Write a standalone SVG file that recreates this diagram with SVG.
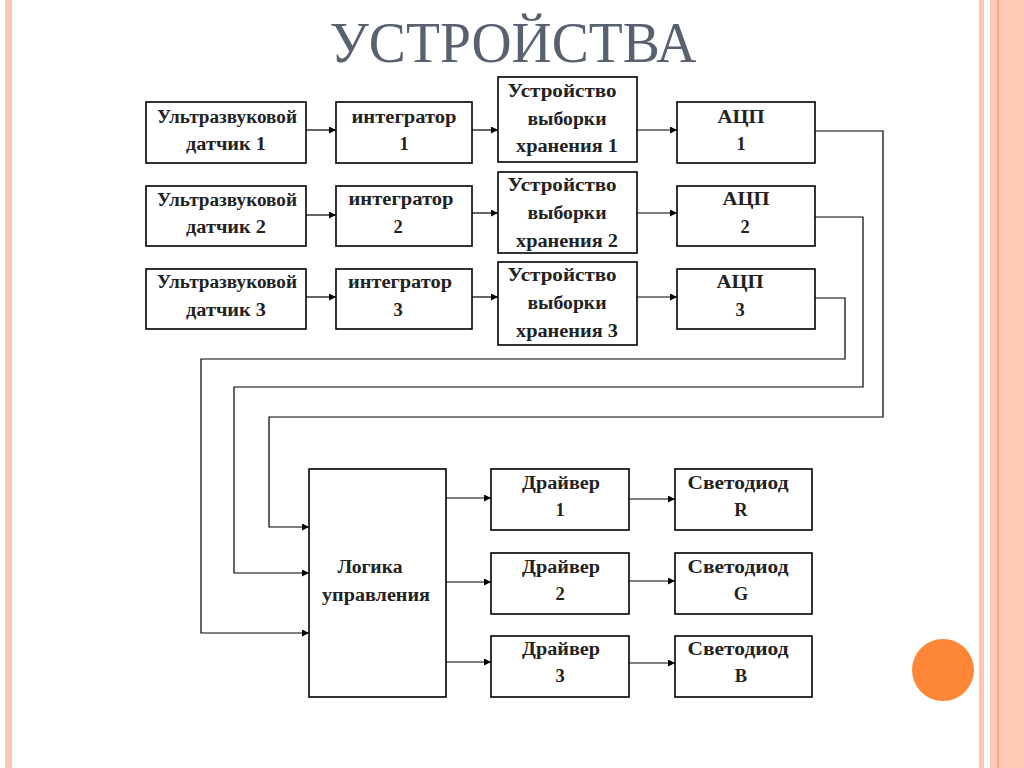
<svg xmlns="http://www.w3.org/2000/svg" width="1024" height="768" viewBox="0 0 1024 768">
<defs>
<style>
.box{fill:#fff;stroke:#000;stroke-width:1.6}
.t{font-family:"Liberation Serif","Times New Roman",serif;font-weight:bold;font-size:18.5px;fill:#222;text-anchor:middle}
.w{fill:none;stroke:#000;stroke-width:1.2}
.title{font-family:"Liberation Serif","Times New Roman",serif;font-size:58px;fill:#596170;text-anchor:middle}
</style>
<marker id="ah" viewBox="0 0 10 10" refX="10" refY="5" markerWidth="9" markerHeight="7" markerUnits="userSpaceOnUse" orient="auto">
<path d="M0,0 L10,5 L0,10 z" fill="#000"/>
</marker>
</defs>
<rect width="1024" height="768" fill="#fff"/>
<rect x="5" y="0" width="7" height="768" fill="#fcc5b3"/>
<rect x="979" y="0" width="5" height="768" fill="#fcc5b3"/>
<rect x="990" y="0" width="34" height="768" fill="#fdcab6"/>
<rect x="997.5" y="0" width="1.2" height="768" fill="#f5915e"/>
<circle cx="943" cy="670" r="31" fill="#fd8637"/>
<text class="title" x="513" y="62" textLength="367" lengthAdjust="spacingAndGlyphs">УСТРОЙСТВА</text>

<g id="us1"><rect class="box" x="146" y="102" width="160" height="61"/><text class="t" x="227" y="123" textLength="140" lengthAdjust="spacingAndGlyphs">Ультразвуковой</text><text class="t" x="226" y="150" textLength="80" lengthAdjust="spacingAndGlyphs">датчик 1</text></g>
<g id="int1"><rect class="box" x="336" y="102" width="136" height="61"/><text class="t" x="404" y="123" textLength="105" lengthAdjust="spacingAndGlyphs">интегратор</text><text class="t" x="404" y="150">1</text></g>
<g id="sh1"><rect class="box" x="498" y="77" width="139" height="85"/><text class="t" x="562" y="97" textLength="109" lengthAdjust="spacingAndGlyphs">Устройство</text><text class="t" x="567" y="125" textLength="79" lengthAdjust="spacingAndGlyphs">выборки</text><text class="t" x="567" y="152" textLength="102" lengthAdjust="spacingAndGlyphs">хранения 1</text></g>
<g id="adc1"><rect class="box" x="677" y="102" width="138" height="61"/><text class="t" x="741" y="123" textLength="47" lengthAdjust="spacingAndGlyphs">АЦП</text><text class="t" x="741" y="150">1</text></g>

<g id="us2"><rect class="box" x="146" y="186" width="160" height="60"/><text class="t" x="227" y="206" textLength="140" lengthAdjust="spacingAndGlyphs">Ультразвуковой</text><text class="t" x="226" y="233" textLength="80" lengthAdjust="spacingAndGlyphs">датчик 2</text></g>
<g id="int2"><rect class="box" x="336" y="186" width="136" height="60"/><text class="t" x="401" y="205" textLength="105" lengthAdjust="spacingAndGlyphs">интегратор</text><text class="t" x="398" y="233">2</text></g>
<g id="sh2"><rect class="box" x="498" y="172" width="139" height="81"/><text class="t" x="562" y="191" textLength="109" lengthAdjust="spacingAndGlyphs">Устройство</text><text class="t" x="567" y="219" textLength="79" lengthAdjust="spacingAndGlyphs">выборки</text><text class="t" x="567" y="247" textLength="102" lengthAdjust="spacingAndGlyphs">хранения 2</text></g>
<g id="adc2"><rect class="box" x="677" y="186" width="138" height="60"/><text class="t" x="746" y="205" textLength="47" lengthAdjust="spacingAndGlyphs">АЦП</text><text class="t" x="745" y="233">2</text></g>

<g id="us3"><rect class="box" x="146" y="269" width="160" height="60"/><text class="t" x="227" y="288" textLength="140" lengthAdjust="spacingAndGlyphs">Ультразвуковой</text><text class="t" x="226" y="316" textLength="80" lengthAdjust="spacingAndGlyphs">датчик 3</text></g>
<g id="int3"><rect class="box" x="336" y="269" width="136" height="60"/><text class="t" x="400" y="288" textLength="104" lengthAdjust="spacingAndGlyphs">интегратор</text><text class="t" x="398" y="316">3</text></g>
<g id="sh3"><rect class="box" x="498" y="262" width="139" height="83"/><text class="t" x="562" y="281" textLength="109" lengthAdjust="spacingAndGlyphs">Устройство</text><text class="t" x="567" y="309" textLength="79" lengthAdjust="spacingAndGlyphs">выборки</text><text class="t" x="567" y="337" textLength="102" lengthAdjust="spacingAndGlyphs">хранения 3</text></g>
<g id="adc3"><rect class="box" x="677" y="269" width="138" height="60"/><text class="t" x="740" y="288" textLength="47" lengthAdjust="spacingAndGlyphs">АЦП</text><text class="t" x="740" y="316">3</text></g>

<g id="logic"><rect class="box" x="309" y="469" width="137" height="228"/><text class="t" x="370" y="573" textLength="65" lengthAdjust="spacingAndGlyphs">Логика</text><text class="t" x="376" y="601" textLength="108" lengthAdjust="spacingAndGlyphs">управления</text></g>
<g id="drv1"><rect class="box" x="491" y="469" width="138" height="61"/><text class="t" x="561" y="489" textLength="78" lengthAdjust="spacingAndGlyphs">Драйвер</text><text class="t" x="560" y="516">1</text></g>
<g id="drv2"><rect class="box" x="491" y="553" width="138" height="61"/><text class="t" x="561" y="573" textLength="78" lengthAdjust="spacingAndGlyphs">Драйвер</text><text class="t" x="560" y="600">2</text></g>
<g id="drv3"><rect class="box" x="491" y="636" width="138" height="61"/><text class="t" x="561" y="655" textLength="78" lengthAdjust="spacingAndGlyphs">Драйвер</text><text class="t" x="560" y="682">3</text></g>
<g id="ledR"><rect class="box" x="675" y="469" width="137" height="61"/><text class="t" x="738" y="489" textLength="101" lengthAdjust="spacingAndGlyphs">Светодиод</text><text class="t" x="741" y="516">R</text></g>
<g id="ledG"><rect class="box" x="675" y="553" width="137" height="61"/><text class="t" x="738" y="573" textLength="101" lengthAdjust="spacingAndGlyphs">Светодиод</text><text class="t" x="741" y="600">G</text></g>
<g id="ledB"><rect class="box" x="675" y="636" width="137" height="61"/><text class="t" x="738" y="655" textLength="101" lengthAdjust="spacingAndGlyphs">Светодиод</text><text class="t" x="741" y="682">B</text></g>

<g id="connectors">
<path class="w" d="M306,130 H336" marker-end="url(#ah)"/>
<path class="w" d="M472,130 H498" marker-end="url(#ah)"/>
<path class="w" d="M637,130 H677" marker-end="url(#ah)"/>
<path class="w" d="M306,215 H336" marker-end="url(#ah)"/>
<path class="w" d="M472,213 H498" marker-end="url(#ah)"/>
<path class="w" d="M637,213 H677" marker-end="url(#ah)"/>
<path class="w" d="M306,297 H336" marker-end="url(#ah)"/>
<path class="w" d="M472,297 H498" marker-end="url(#ah)"/>
<path class="w" d="M637,297 H677" marker-end="url(#ah)"/>
<path class="w" d="M815,131 H883 V417 H269 V527 H309" marker-end="url(#ah)"/>
<path class="w" d="M815,217 H863 V387 H234 V573 H309" marker-end="url(#ah)"/>
<path class="w" d="M815,298 H845 V359 H201 V633 H309" marker-end="url(#ah)"/>
<path class="w" d="M446,498 H491" marker-end="url(#ah)"/>
<path class="w" d="M446,582 H491" marker-end="url(#ah)"/>
<path class="w" d="M446,662 H491" marker-end="url(#ah)"/>
<path class="w" d="M629,499 H675" marker-end="url(#ah)"/>
<path class="w" d="M629,581 H675" marker-end="url(#ah)"/>
<path class="w" d="M629,663 H675" marker-end="url(#ah)"/>
</g>
</svg>
